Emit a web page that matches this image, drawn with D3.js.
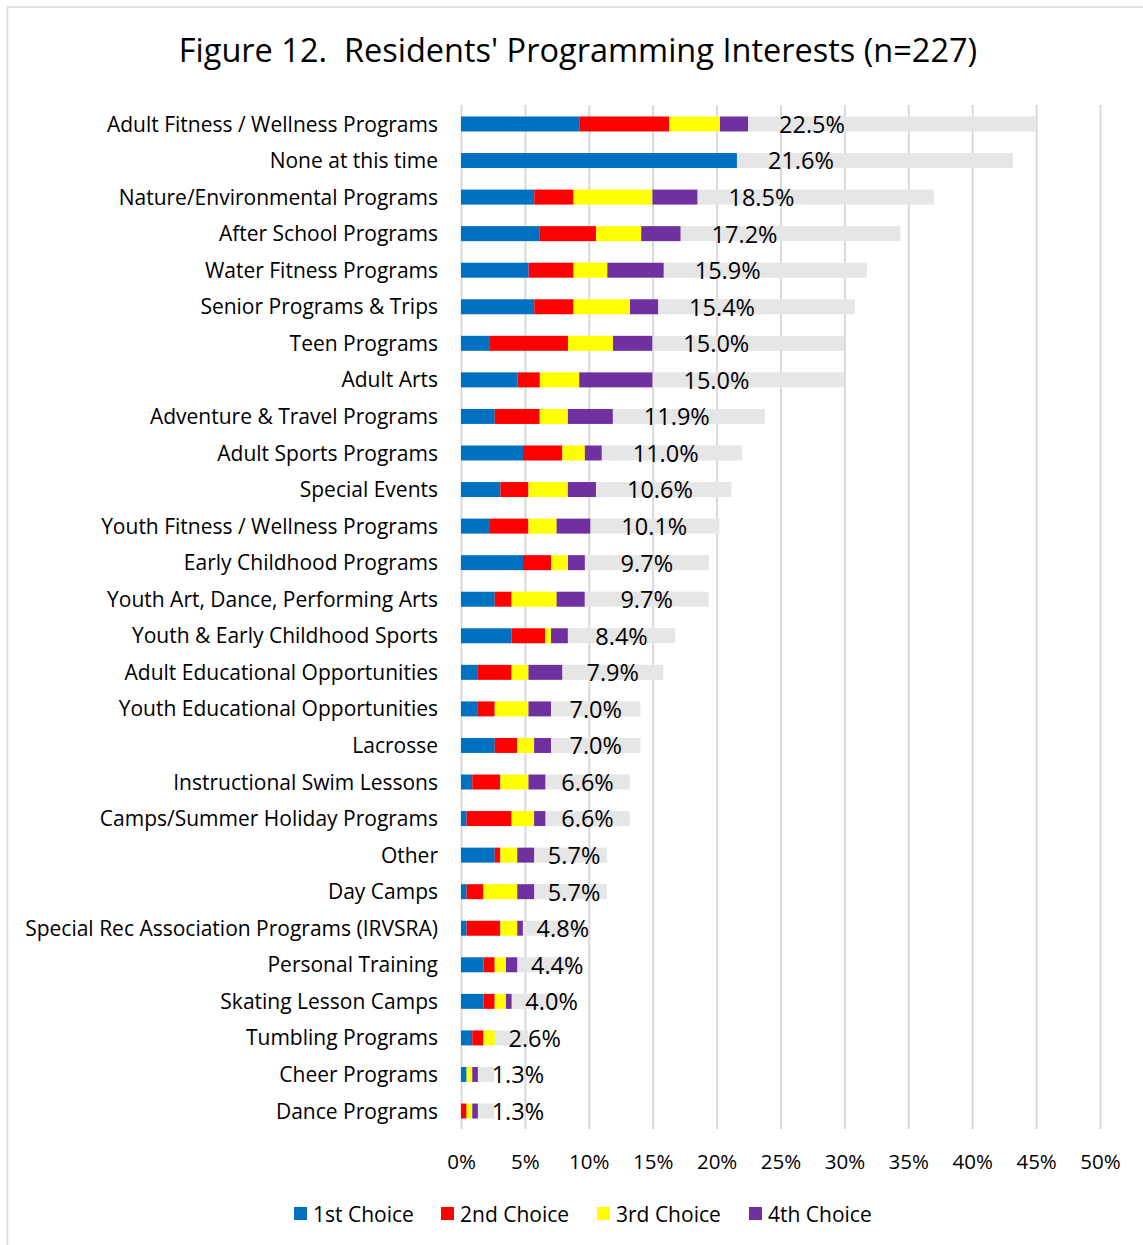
<!DOCTYPE html>
<html>
<head>
<meta charset="utf-8">
<script src="https://cdn.jsdelivr.net/npm/d3@7"></script>
<style>
  body { margin: 0; background: #fff; }
  svg { display: block; }
  text { font-family: 'Open Sans', sans-serif; fill: #000; }
</style>
</head>
<body>
<svg id="chart" width="1143" height="1245"></svg>
<script>
// categories, top to bottom
var categories = [
  'Adult Fitness / Wellness Programs', 'None at this time', 'Nature/Environmental Programs',
  'After School Programs', 'Water Fitness Programs', 'Senior Programs & Trips', 'Teen Programs',
  'Adult Arts', 'Adventure & Travel Programs', 'Adult Sports Programs', 'Special Events',
  'Youth Fitness / Wellness Programs', 'Early Childhood Programs', 'Youth Art, Dance, Performing Arts',
  'Youth & Early Childhood Sports', 'Adult Educational Opportunities', 'Youth Educational Opportunities',
  'Lacrosse', 'Instructional Swim Lessons', 'Camps/Summer Holiday Programs', 'Other', 'Day Camps',
  'Special Rec Association Programs (IRVSRA)', 'Personal Training', 'Skating Lesson Camps',
  'Tumbling Programs', 'Cheer Programs', 'Dance Programs'
]

// percent of respondents
var firstChoice  = [9.25, 21.59, 5.73, 6.17, 5.29, 5.73, 2.20, 4.41, 2.64, 4.85, 3.08, 2.20, 4.85, 2.64, 3.96, 1.32, 1.32, 2.64, 0.88, 0.44, 2.64, 0.44, 0.44, 1.76, 1.76, 0.88, 0.44, 0]
var secondChoice = [7.05, 0, 3.08, 4.41, 3.52, 3.08, 6.17, 1.76, 3.52, 3.08, 2.20, 3.08, 2.20, 1.32, 2.64, 2.64, 1.32, 1.76, 2.20, 3.52, 0.44, 1.32, 2.64, 0.88, 0.88, 0.88, 0, 0.44]
var thirdChoice  = [3.96, 0, 6.17, 3.52, 2.64, 4.41, 3.52, 3.08, 2.20, 1.76, 3.08, 2.20, 1.32, 3.52, 0.44, 1.32, 2.64, 1.32, 2.20, 1.76, 1.32, 2.64, 1.32, 0.88, 0.88, 0.88, 0.44, 0.44]
var fourthChoice = [2.20, 0, 3.52, 3.08, 4.41, 2.20, 3.08, 5.73, 3.52, 1.32, 2.20, 2.64, 1.32, 2.20, 1.32, 2.64, 1.76, 1.32, 1.32, 0.88, 1.32, 1.32, 0.44, 0.88, 0.44, 0, 0.44, 0.44]
var totals       = [22.5, 21.6, 18.5, 17.2, 15.9, 15.4, 15.0, 15.0, 11.9, 11.0, 10.6, 10.1, 9.7, 9.7, 8.4, 7.9, 7.0, 7.0, 6.6, 6.6, 5.7, 5.7, 4.8, 4.4, 4.0, 2.6, 1.3, 1.3]

var seriesNames = ['1st Choice', '2nd Choice', '3rd Choice', '4th Choice']
var tickValues = [0, 5, 10, 15, 20, 25, 30, 35, 40, 45, 50]

var colors = ['#0070C0', '#FF0000', '#FFFF00', '#7030A0']
var totalColor = '#E7E6E6'

var rows = categories.map(function (c, i) {
  return {
    name: c,
    '1st Choice': firstChoice[i],
    '2nd Choice': secondChoice[i],
    '3rd Choice': thirdChoice[i],
    '4th Choice': fourthChoice[i],
    total: totals[i]
  }
})

var svg = d3.select('#chart')

// frame of the embedded chart
svg.append('rect')
  .attr('x', 7.5).attr('y', 7)
  .attr('width', 1150).attr('height', 1260)
  .attr('fill', 'none')
  .attr('stroke', '#d9d9d9')
  .attr('stroke-width', 1.5)

var x = d3.scaleLinear()
  .domain([0, 50])
  .range([461, 1100])

var y = d3.scaleBand()
  .domain(categories)
  .range([105.7, 1129.3])
  .paddingInner(0.59)
  .paddingOuter(0.295)

// gridlines
svg.append('g')
  .attr('transform', 'translate(0,1129)')
  .call(d3.axisBottom(x).tickValues(tickValues).tickSize(-1024).tickFormat(''))
  .call(function (g) {
    g.select('.domain').remove()
    g.selectAll('line').attr('stroke', '#d9d9d9').attr('stroke-width', 2)
  })

// tick labels
svg.append('g')
  .attr('transform', 'translate(0,1151)')
  .call(d3.axisBottom(x).tickValues(tickValues).tickSize(0).tickFormat(function (d) { return d + '%' }))
  .call(function (g) {
    g.select('.domain').remove()
    g.selectAll('text').attr('font-size', 20.5).attr('font-family', "'Open Sans', sans-serif").attr('fill', '#000')
  })

var stack = d3.stack().keys(seriesNames)
var series = stack(rows)

// total bar stacked after the four choices
svg.append('g').selectAll('rect')
  .data(rows)
  .enter().append('rect')
    .attr('x', function (d, i) { return x(series[3][i][1]) })
    .attr('y', function (d) { return y(d.name) })
    .attr('width', function (d) { return x(d.total) - x(0) })
    .attr('height', y.bandwidth())
    .attr('fill', totalColor)

svg.append('g').selectAll('g')
  .data(series)
  .enter().append('g')
    .attr('fill', function (d, i) { return colors[i] })
  .selectAll('rect')
  .data(function (d) { return d })
  .enter().append('rect')
    .attr('x', function (d) { return x(d[0]) })
    .attr('y', function (d) { return y(d.data.name) })
    .attr('width', function (d) { return x(d[1]) - x(d[0]) })
    .attr('height', y.bandwidth())

// total labels
svg.append('g').selectAll('text')
  .data(rows)
  .enter().append('text')
    .attr('x', function (d, i) {
      var start = x(series[3][i][1])
      var half = (x(d.total) - x(0)) / 2
      return start + Math.max(40, Math.min(half, 64))
    })
    .attr('y', function (d) { return y(d.name) + y.bandwidth() / 2 })
    .attr('dy', '0.38em')
    .attr('text-anchor', 'middle')
    .attr('font-size', 23.5)
    .text(function (d) { return d.total.toFixed(1) + '%' })

// category labels
svg.append('g').selectAll('text')
  .data(categories)
  .enter().append('text')
    .attr('x', 438)
    .attr('y', function (d) { return y(d) + y.bandwidth() / 2 })
    .attr('dy', '0.36em')
    .attr('text-anchor', 'end')
    .attr('font-size', 21)
    .text(function (d) { return d })

// title
svg.append('text')
  .attr('x', 578)
  .attr('y', 62)
  .attr('text-anchor', 'middle')
  .attr('font-size', 32.5)
  .style('white-space', 'pre')
  .text("Figure 12.  Residents' Programming Interests (n=227)")

// legend
var legendX = [294, 441, 597, 749]
var legend = svg.append('g').selectAll('g')
  .data(seriesNames)
  .enter().append('g')
    .attr('transform', function (d, i) { return 'translate(' + legendX[i] + ',1207)' })
legend.append('rect')
  .attr('width', 13).attr('height', 13)
  .attr('fill', function (d, i) { return colors[i] })
legend.append('text')
  .attr('x', 19)
  .attr('y', 7)
  .attr('dy', '0.36em')
  .attr('font-size', 21)
  .text(function (d) { return d })
</script>
</body>
</html>
